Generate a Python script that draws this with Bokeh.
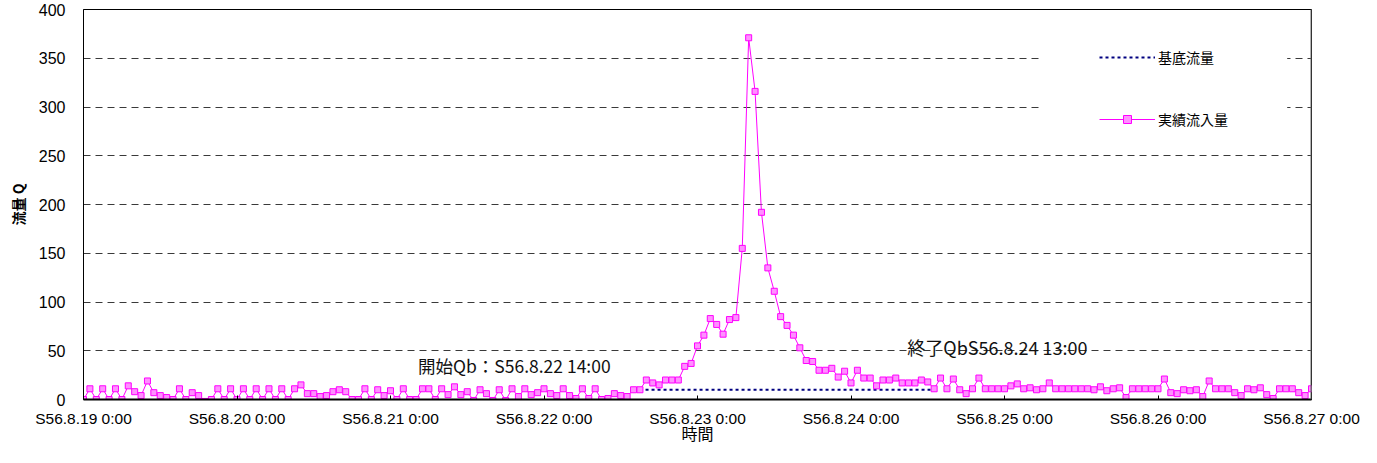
from bokeh.plotting import figure
from bokeh.models import FixedTicker, Legend, LegendItem, Label, BoxAnnotation, Span, Range1d
from bokeh.embed import file_html
from bokeh.resources import INLINE

# ---------------- data ----------------
tick_labels = ["S56.8.19 0:00", "S56.8.20 0:00", "S56.8.21 0:00", "S56.8.22 0:00",
               "S56.8.23 0:00", "S56.8.24 0:00", "S56.8.25 0:00", "S56.8.26 0:00",
               "S56.8.27 0:00"]

# hourly inflow (m3/s) from S56.8.19 0:00 to S56.8.27 0:00
inflow = [
    0, 11, 0, 11, 0, 11, 0, 14, 8, 4,
    19, 7, 4, 2, 0, 11, 0, 7, 4, -2,
    0, 11, 0, 11, 0, 11, 0, 11, 0, 11,
    0, 11, 0, 11, 15, 6, 6, 3, 4, 8,
    10, 8, 0, 0, 11, 0, 10,
    4, 9, 0, 11, 0, 0, 11, 11, 0, 11,
    5, 13, 5, 8, -1, 10, 6, -1, 10, -1,
    11, 3, 11, 5, 7, 11, 6, 4, 11, 4,
    1, 11, 1, 11, 0, 1, 6, 4, 3, 10,
    10, 20, 17, 15, 20, 20, 20, 34, 37,
    55, 66, 83, 77, 67, 82, 84, 155, 371, 316,
    192, 135, 111, 85, 76, 66, 53, 40, 39, 30,
    30, 32, 23, 29, 17, 30, 22, 22, 14, 20,
    20, 22, 17, 17, 17, 20, 18, 11, 22, 11,
    21, 10, 6, 11, 22, 11, 11, 11, 11, 14,
    16, 11, 12, 10, 11, 17, 11, 11, 11, 11,
    11, 11, 10, 13,
    9, 11, 12, 2, 11, 11, 11, 11, 11, 21,
    7, 6, 10, 9, 10, 3, 19, 11, 11, 11,
    7, 4, 11, 10, 12, 5, 1, 11, 11, 11,
    7, 4, 11,
]
hours = list(range(len(inflow)))

# base flow: S56.8.22 14:00 -> S56.8.24 13:00 (hours since S56.8.19 0:00)
baseflow_hours = [86, 133]
baseflow_q = [10, 10]

series_names = ["基底流量", "実績流入量"]
start_note = "開始Qb：S56.8.22 14:00"
end_note = "終了QbS56.8.24 13:00"
x_title = "時間"
y_title = "流量 Q"
y_ticks = [0, 50, 100, 150, 200, 250, 300, 350, 400]

# ---------------- figure ----------------
p = figure(width=1361, height=447, output_backend="svg", toolbar_location=None,
           x_range=Range1d(0, len(inflow) - 1), y_range=Range1d(0, 400),
           min_border_left=83, min_border_right=50, min_border_top=9, min_border_bottom=47)
p.background_fill_color = "white"
p.border_fill_color = "white"
p.outline_line_color = "black"
p.outline_line_width = 1

# grid
p.xgrid.grid_line_color = None
p.ygrid.ticker = FixedTicker(ticks=y_ticks)
p.ygrid.grid_line_color = "#3a3a3a"
p.ygrid.grid_line_dash = "7 5"
p.ygrid.grid_line_width = 1

# x axis
xa = p.xaxis[0]
xa.ticker = FixedTicker(ticks=[24 * i for i in range(len(tick_labels))])
xa.major_label_overrides = {24 * i: lab for i, lab in enumerate(tick_labels)}
xa.major_tick_in = 4
xa.major_tick_out = 0
xa.minor_tick_line_color = None
xa.axis_line_width = 2
xa.axis_line_color = "black"
xa.major_label_text_font = "Liberation Sans"
xa.major_label_text_font_size = "15.5px"
xa.major_label_text_color = "black"
xa.major_label_standoff = 10
xa.axis_label = x_title
xa.axis_label_text_font = "Noto Sans CJK JP"
xa.axis_label_text_font_size = "16px"
xa.axis_label_text_font_style = "normal"
xa.axis_label_text_color = "black"
xa.axis_label_standoff = -9

# y axis
ya = p.yaxis[0]
ya.ticker = FixedTicker(ticks=y_ticks)
ya.major_tick_line_color = None
ya.minor_tick_line_color = None
ya.major_tick_in = 0
ya.major_tick_out = 0
ya.axis_line_color = "black"
ya.axis_line_width = 1
ya.major_label_text_font = "Liberation Sans"
ya.major_label_text_font_size = "16px"
ya.major_label_text_color = "black"
ya.major_label_standoff = 18
ya.axis_label = y_title
ya.axis_label_text_font = "Noto Sans CJK JP"
ya.axis_label_text_font_size = "14px"
ya.axis_label_text_font_style = "bold"
ya.axis_label_text_color = "black"
ya.axis_label_standoff = 8

# right border (grey)
p.add_layout(Span(location=len(inflow) - 1, dimension="height", line_color="#666666", line_width=2))

# series
base_r = p.line(baseflow_hours, baseflow_q, line_color="#000080", line_width=2.2, line_dash="3 3")
inflow_line = p.line(hours, inflow, line_color="#FF00FF", line_width=1)
inflow_pts = p.scatter(hours, inflow, marker="square", size=6, line_color="#FF00FF",
                       fill_color="#FF90FF", line_width=1)

# annotations
p.add_layout(Label(x=52.3, y=35, text=start_note, text_baseline="middle",
                   text_font="Noto Sans CJK JP", text_font_size="17.5px", text_color="#111111"))
p.add_layout(Label(x=128.8, y=54, text=end_note, text_baseline="middle",
                   text_font="Noto Sans CJK JP", text_font_size="18px", text_color="#111111"))

# legend background (white box hiding the grid lines)
p.add_layout(BoxAnnotation(left=150, right=188.2, bottom=265, top=385,
                           fill_color="white", fill_alpha=1, line_color=None, level="annotation"))

legend = Legend(items=[LegendItem(label=series_names[0], renderers=[base_r]),
                       LegendItem(label=series_names[1], renderers=[inflow_line, inflow_pts])],
                location=(1011, 265), orientation="vertical",
                padding=5, spacing=42, margin=0,
                glyph_width=56, glyph_height=20, label_height=20, label_standoff=3,
                label_text_font="Noto Sans CJK JP", label_text_font_size="14px",
                label_text_color="black",
                background_fill_alpha=0, border_line_alpha=0)
p.add_layout(legend)

open("out.html", "w").write(file_html(p, INLINE))
